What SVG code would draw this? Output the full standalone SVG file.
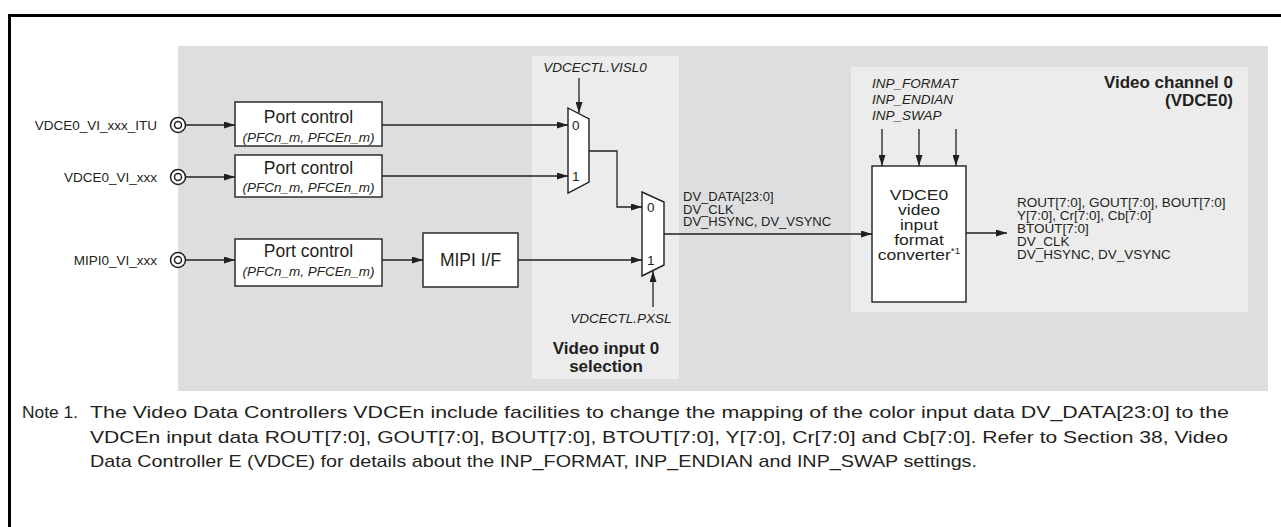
<svg xmlns="http://www.w3.org/2000/svg" width="1281" height="527" viewBox="0 0 1281 527">
<style>
text{font-family:"Liberation Sans",Arial,Helvetica,sans-serif;fill:#231f20}
.sm{font-size:13.5px}
.xs{font-size:13px}
.it{font-style:italic}
.lg{font-size:17.5px}
.cv{font-size:15px}
.bd{font-weight:bold;font-size:17px}
.nt{font-size:17px}
.mid{text-anchor:middle}
.end{text-anchor:end}
.box{fill:#fff;stroke:#231f20;stroke-width:1.4}
.ln{fill:none;stroke:#231f20;stroke-width:1.3}
.pin{fill:#fff;stroke:#231f20;stroke-width:1.5}
</style>
<defs>
<marker id="ah" viewBox="0 0 11 7" refX="11" refY="3.5" markerWidth="11" markerHeight="7" markerUnits="userSpaceOnUse" orient="auto">
<path d="M0,0 L11,3.5 L0,7 Z" fill="#231f20"/>
</marker>
</defs>
<rect x="0" y="0" width="1281" height="527" fill="#fff"/>
<rect x="9.5" y="15.5" width="1400" height="600" fill="none" stroke="#000" stroke-width="3"/>
<rect x="178" y="46" width="1090" height="345" fill="#dddee0"/>
<rect x="532" y="56" width="147" height="323" fill="#ececec"/>
<rect x="851" y="67" width="397" height="245" fill="#ececec"/>

<g id="pins">
<g id="pin-itu"><circle class="pin" cx="178" cy="125" r="7.5"/><circle class="pin" cx="178" cy="125" r="3.5"/><text class="sm end" x="157" y="130">VDCE0_VI_xxx_ITU</text></g>
<g id="pin-vi"><circle class="pin" cx="178" cy="177" r="7.5"/><circle class="pin" cx="178" cy="177" r="3.5"/><text class="sm end" x="157" y="182">VDCE0_VI_xxx</text></g>
<g id="pin-mipi"><circle class="pin" cx="178" cy="260" r="7.5"/><circle class="pin" cx="178" cy="260" r="3.5"/><text class="sm end" x="157" y="265">MIPI0_VI_xxx</text></g>
</g>

<g id="port1"><rect class="box" x="235" y="102" width="147" height="44"/><text class="lg mid" x="308.5" y="123">Port control</text><text class="sm it mid" x="308.5" y="142">(PFCn_m, PFCEn_m)</text></g>
<g id="port2"><rect class="box" x="235" y="155" width="147" height="42"/><text class="lg mid" x="308.5" y="174">Port control</text><text class="sm it mid" x="308.5" y="192">(PFCn_m, PFCEn_m)</text></g>
<g id="port3"><rect class="box" x="235" y="239" width="147" height="47"/><text class="lg mid" x="308.5" y="257">Port control</text><text class="sm it mid" x="308.5" y="276">(PFCn_m, PFCEn_m)</text></g>
<g id="mipi"><rect class="box" x="423" y="233" width="95" height="54"/><text class="lg mid" x="470.5" y="266">MIPI I/F</text></g>

<g id="mux1"><polygon class="box" points="568,108 589,119 589,182 568,193"/><text class="sm" x="572" y="130">0</text><text class="sm" x="572" y="181">1</text></g>
<g id="mux2"><polygon class="box" points="642,192 664,202 664,265 642,276"/><text class="sm" x="647" y="212">0</text><text class="sm" x="647" y="265">1</text></g>

<g id="selection-labels">
<text class="sm it mid" x="595" y="72">VDCECTL.VISL0</text>
<text class="sm it mid" x="621" y="323">VDCECTL.PXSL</text>
<text class="bd mid" x="606" y="354">Video input 0</text>
<text class="bd mid" x="606" y="372">selection</text>
</g>

<g id="dv-labels">
<text class="xs" x="683" y="201">DV_DATA[23:0]</text>
<text class="xs" x="683" y="213.5">DV_CLK</text>
<text class="xs" x="683" y="226">DV_HSYNC, DV_VSYNC</text>
</g>

<g id="converter">
<rect class="box" x="872" y="166" width="94" height="136"/>
<g transform="matrix(1.17,0,0,1,-156.23,0)">
<text class="cv mid" x="919" y="200.5">VDCE0</text>
<text class="cv mid" x="919" y="215.5">video</text>
<text class="cv mid" x="919" y="230.5">input</text>
<text class="cv mid" x="919" y="245.5">format</text>
<text class="cv mid" x="919" y="260.5">converter<tspan font-size="8.5" dy="-6">*1</tspan></text>
</g>
</g>

<g id="inp-labels">
<text class="sm it" x="872" y="88">INP_FORMAT</text>
<text class="sm it" x="872" y="104">INP_ENDIAN</text>
<text class="sm it" x="872" y="120">INP_SWAP</text>
</g>

<g id="channel-title">
<text class="bd end" x="1233" y="88">Video channel 0</text>
<text class="bd end" x="1233" y="106">(VDCE0)</text>
</g>

<g id="out-labels">
<text class="sm" x="1017" y="207">ROUT[7:0], GOUT[7:0], BOUT[7:0]</text>
<text class="sm" x="1017" y="220">Y[7:0], Cr[7:0], Cb[7:0]</text>
<text class="sm" x="1017" y="233">BTOUT[7:0]</text>
<text class="sm" x="1017" y="246">DV_CLK</text>
<text class="sm" x="1017" y="259">DV_HSYNC, DV_VSYNC</text>
</g>

<g id="connectors">
<line class="ln" x1="186" y1="125" x2="235" y2="125" marker-end="url(#ah)"/>
<line class="ln" x1="186" y1="177" x2="235" y2="177" marker-end="url(#ah)"/>
<line class="ln" x1="186" y1="260" x2="235" y2="260" marker-end="url(#ah)"/>
<line class="ln" x1="382" y1="125" x2="568" y2="125" marker-end="url(#ah)"/>
<line class="ln" x1="382" y1="176" x2="568" y2="176" marker-end="url(#ah)"/>
<line class="ln" x1="382" y1="260" x2="423" y2="260" marker-end="url(#ah)"/>
<line class="ln" x1="518" y1="260" x2="642" y2="260" marker-end="url(#ah)"/>
<polyline class="ln" points="589,151 617,151 617,207 642,207" marker-end="url(#ah)"/>
<line class="ln" x1="579" y1="78" x2="579" y2="113" marker-end="url(#ah)"/>
<line class="ln" x1="664" y1="234" x2="872" y2="234" marker-end="url(#ah)"/>
<line class="ln" x1="653" y1="307" x2="653" y2="271" marker-end="url(#ah)"/>
<line class="ln" x1="882" y1="129" x2="882" y2="166" marker-end="url(#ah)"/>
<line class="ln" x1="919" y1="129" x2="919" y2="166" marker-end="url(#ah)"/>
<line class="ln" x1="956" y1="129" x2="956" y2="166" marker-end="url(#ah)"/>
<line class="ln" x1="966" y1="233" x2="1007" y2="233" marker-end="url(#ah)"/>
</g>

<g id="note">
<text class="nt" x="22" y="418" textLength="56" lengthAdjust="spacingAndGlyphs">Note 1.</text>
<text class="nt" x="90" y="418" textLength="1139" lengthAdjust="spacingAndGlyphs">The Video Data Controllers VDCEn include facilities to change the mapping of the color input data DV_DATA[23:0] to the</text>
<text class="nt" x="90" y="443" textLength="1138" lengthAdjust="spacingAndGlyphs">VDCEn input data ROUT[7:0], GOUT[7:0], BOUT[7:0], BTOUT[7:0], Y[7:0], Cr[7:0] and Cb[7:0]. Refer to Section 38, Video</text>
<text class="nt" x="90" y="467" textLength="887" lengthAdjust="spacingAndGlyphs">Data Controller E (VDCE) for details about the INP_FORMAT, INP_ENDIAN and INP_SWAP settings.</text>
</g>
</svg>
